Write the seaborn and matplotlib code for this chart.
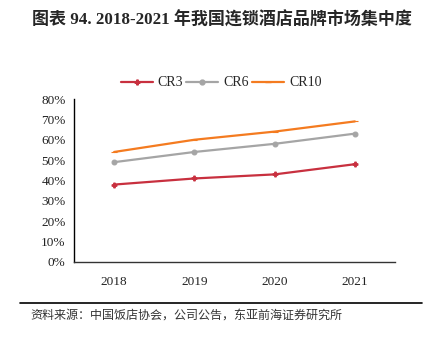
import matplotlib
matplotlib.use("Agg")
import matplotlib.pyplot as plt
import seaborn as sns
import pandas as pd
from matplotlib.lines import Line2D

years = ["2018", "2019", "2020", "2021"]
cr3 = [38, 41, 43, 48]
cr6 = [49, 54, 58, 63]
cr10 = [54, 60, 64, 69]
series_names = ["CR3", "CR6", "CR10"]
yticks = [0, 10, 20, 30, 40, 50, 60, 70, 80]

sns.set_theme(style="white")
plt.rcParams['font.family'] = ['Liberation Serif', 'Noto Sans CJK SC', 'DejaVu Sans']

df = pd.DataFrame({"year": years * 3,
                   "value": cr3 + cr6 + cr10,
                   "series": [s for s in series_names for _ in years]})

colors = {"CR3": "#C8303F", "CR6": "#A5A5A5", "CR10": "#F47B20"}
markers = {"CR3": "P", "CR6": "o", "CR10": "_"}
msizes = {"CR3": 3.5, "CR6": 3.5, "CR10": 4}

fig = plt.figure(figsize=(4.24, 3.37), dpi=100)
ax = fig.add_axes([74/424, 1-262/337, (395-74)/424, (262-99)/337])

for s in series_names:
    sub = df[df.series == s]
    sns.lineplot(data=sub, x="year", y="value", ax=ax, color=colors[s],
                 marker=markers[s], markersize=msizes[s], markeredgewidth=0.8,
                 markeredgecolor=colors[s], linewidth=1.6, sort=False, legend=False)

ax.set_xlim(-0.5, 3.5)
ax.set_ylim(0, 80)
ax.set_yticks(yticks)
ax.set_yticklabels([f"{v}%" for v in yticks], fontsize=9.5)
ax.tick_params(axis='y', direction='in', length=4, width=0.8, color='black', pad=6)
ax.tick_params(axis='x', length=0, pad=10, labelsize=9.5)
for lab in ax.get_xticklabels() + ax.get_yticklabels():
    lab.set_family(['Liberation Serif'])
    lab.set_color('#222222')
ax.set_xlabel("")
ax.set_ylabel("")
for sp in ["top", "right"]:
    ax.spines[sp].set_visible(False)
ax.spines["left"].set_color("black")
ax.spines["bottom"].set_color("#333333")
ax.spines["left"].set_linewidth(1.0)
ax.spines["bottom"].set_linewidth(1.0)

handles = [Line2D([0], [0], color=colors[s], marker=markers[s], markersize=msizes[s],
                  markeredgecolor=colors[s], linewidth=1.6) for s in series_names]
fig.legend(handles, series_names, loc="center", bbox_to_anchor=(221/424, 1-83/337),
           ncol=3, frameon=False, handlelength=2.3, columnspacing=0.25,
           handletextpad=0.35, prop={'family': 'Liberation Serif', 'size': 10})

title = fig.text(32/424, 1-20/337, "图表 94. 2018-2021 年我国连锁酒店品牌市场集中度",
                 fontsize=12.5, fontweight='bold',
                 family=['Liberation Serif', 'Noto Sans CJK SC'], va='center', ha='left')
# fit title width to the reference span
fig.canvas.draw()
w = title.get_window_extent().width
title.set_fontsize(12.5 * (412 - 32) / w)

fig.add_artist(Line2D([20/424, 422/424], [1-303/337, 1-303/337], color='black', linewidth=1.2))
src = fig.text(30/424, 1-315/337, "资料来源：中国饭店协会，公司公告，东亚前海证券研究所", fontsize=8.5,
               family=['Noto Sans CJK SC'], color='#333333', va='center', ha='left')
fig.canvas.draw()
w2 = src.get_window_extent().width
src.set_fontsize(8.5 * (342 - 30) / w2)

fig.savefig("out.png", dpi=100)
